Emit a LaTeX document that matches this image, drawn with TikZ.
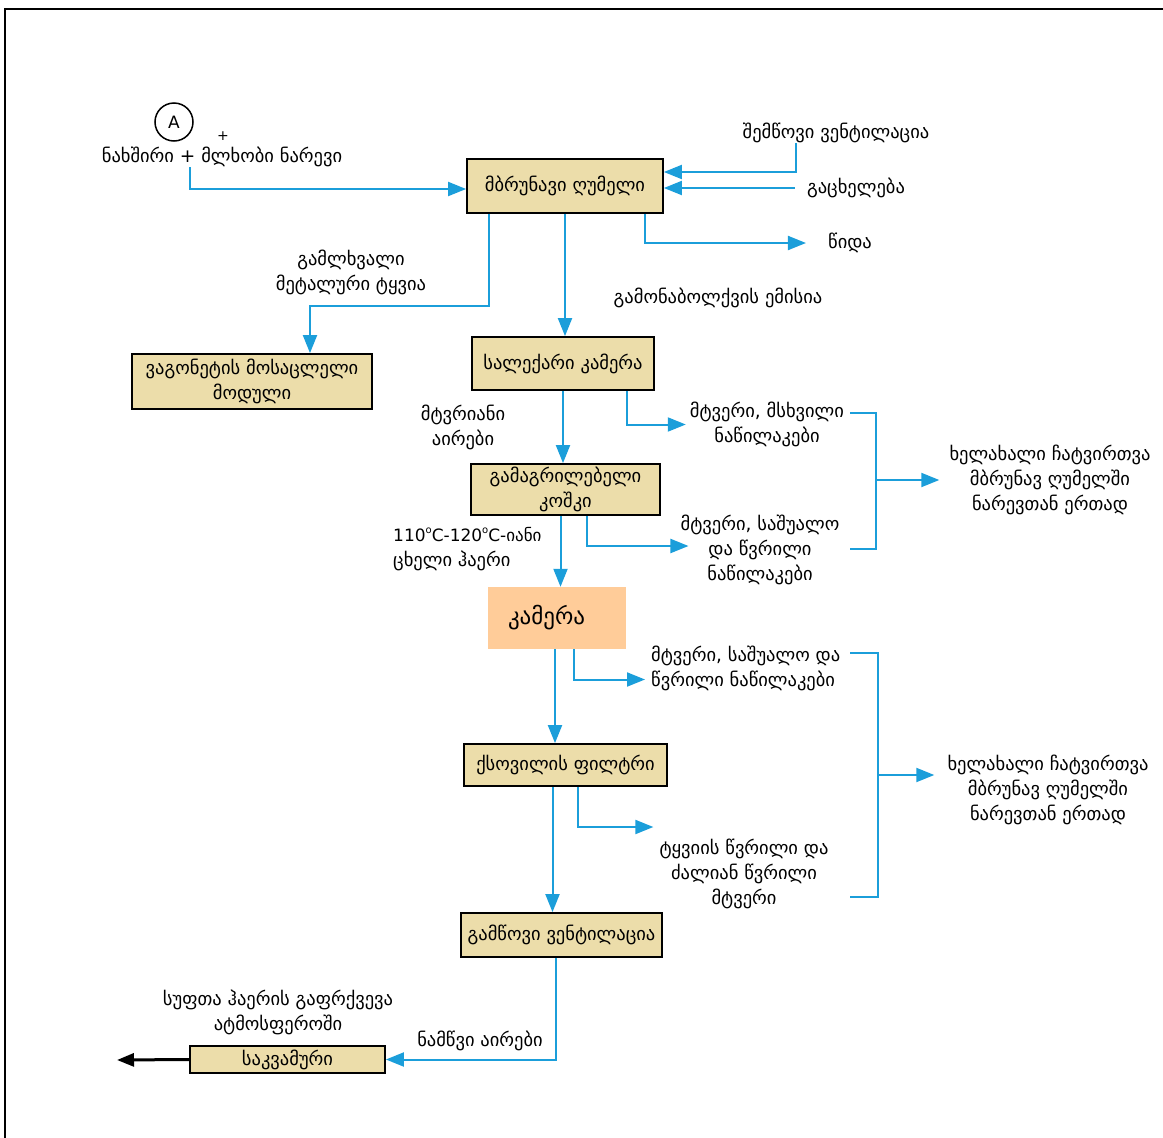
\documentclass[tikz,border=0pt]{standalone}
\usepackage{fontspec}
\setmainfont{DejaVu Sans}
\usetikzlibrary{arrows.meta,calc}
\definecolor{flowblue}{RGB}{27,158,218}
\definecolor{boxtan}{RGB}{236,221,170}
\definecolor{camorange}{RGB}{255,204,153}
\newcommand\fs{\fontsize{18.5}{25}\selectfont}
\newcommand\dg{\raisebox{0.9ex}{\fontsize{10}{10}\selectfont o}}
\begin{document}
\begin{tikzpicture}[x=1pt,y=-1pt,
 box/.style={draw=black, line width=1.8pt, fill=boxtan, inner sep=0pt, align=center, font=\fs},
 lbl/.style={align=center, inner sep=0pt, font=\fs},
 flow/.style={draw=flowblue, line width=2pt, -{Triangle[length=18pt,width=14pt]}},
 fline/.style={draw=flowblue, line width=2pt},
 outarrow/.style={draw=black, line width=3pt, -{Triangle[length=17pt,width=13pt]}},
]
\useasboundingbox (0,0) rectangle (1163,1138);
\draw[line width=1.6pt] (5,1140) -- (5,9) -- (1165,9);

% input
\node[draw, circle, line width=1.5pt, minimum size=38pt, inner sep=0pt, font=\fontsize{17}{18}\selectfont] (A) at (174,122) {A};
\node[lbl, font=\fontsize{14}{15}\selectfont] (plus) at (223,136) {+};
\node[lbl] (inp) at (222,157) {ნახშირი + მლხობი ნარევი};

% boxes
\node[box, minimum width=196pt, minimum height=54pt] (b1) at (565,186) {მბრუნავი ღუმელი};
\node[box, minimum width=240pt, minimum height=55pt] (wag) at (252,381.5) {ვაგონეტის მოსაცლელი\\მოდული};
\node[box, minimum width=182pt, minimum height=53pt] (b2) at (563,363.5) {სალექარი კამერა};
\node[box, minimum width=189pt, minimum height=51pt] (b3) at (565.5,489.5) {გამაგრილებელი\\კოშკი};
\node[fill=camorange, minimum width=138pt, minimum height=62pt, text width=98pt, inner xsep=20pt, inner ysep=0pt, align=left, font=\fontsize{23}{26}\selectfont] (cam) at (557,618) {კამერა};
\node[box, minimum width=203pt, minimum height=42pt] (b4) at (565.5,765) {ქსოვილის ფილტრი};
\node[box, minimum width=201pt, minimum height=44pt] (b5) at (561.5,935) {გამწოვი ვენტილაცია};
\node[box, minimum width=195pt, minimum height=27pt] (b6) at (287.5,1059.5) {საკვამური};

% labels
\node[lbl] (vent) at (836,133) {შემწოვი ვენტილაცია};
\node[lbl] (heat) at (856,188) {გაცხელება};
\node[lbl] (slag) at (850,243) {წიდა};
\node[lbl] (metal) at (351,272.5) {გამლხვალი\\მეტალური ტყვია};
\node[lbl] (emis) at (718,298) {გამონაბოლქვის ემისია};
\node[lbl] (dusty) at (463,427) {მტვრიანი\\აირები};
\node[lbl] (coarse) at (767,424.5) {მტვერი, მსხვილი\\ნაწილაკები};
\node[lbl, align=left, anchor=west] (hot) at (393,549.5) {{\fontsize{17}{25}\selectfont 110\dg C-120\dg C-იანი}\\ცხელი ჰაერი};
\node[lbl] (medium) at (760,550) {მტვერი, საშუალო\\და წვრილი\\ნაწილაკები};
\node[lbl] (reload1) at (1050,480) {ხელახალი ჩატვირთვა\\მბრუნავ ღუმელში\\ნარევთან ერთად};
\node[lbl, align=left, anchor=west] (fine) at (651,668.5) {მტვერი, საშუალო და\\წვრილი ნაწილაკები};
\node[lbl] (reload2) at (1048,790) {ხელახალი ჩატვირთვა\\მბრუნავ ღუმელში\\ნარევთან ერთად};
\node[lbl] (lead) at (744,874) {ტყვიის წვრილი და\\ძალიან წვრილი\\მტვერი};
\node[lbl] (flue) at (480,1041) {ნამწვი აირები};
\node[lbl] (clean) at (278,1012.5) {სუფთა ჰაერის გაფრქვევა\\ატმოსფეროში};

% bracket coordinates
\coordinate (k1a) at (850,413);
\coordinate (k1c) at (876,549);
\coordinate (k1d) at (850,549);
\coordinate (k2a) at (850,653);
\coordinate (k2c) at (878,897);
\coordinate (k2d) at (850,897);
\coordinate (k2m) at (878,775);
\coordinate (outc) at (117,1060);

% connectors
\draw[flow] ([xshift=-32pt]inp.south) |- ([yshift=-3pt]b1.west);
\draw[flow] ([xshift=-40pt]vent.south) |- ([yshift=14pt]b1.east);
\draw[flow] ([xshift=-12pt]heat.west) -- (heat.west -| b1.east);
\draw[flow] ([xshift=80pt]b1.south) |- ([xshift=-22pt]slag.west);
\draw[flow] ([xshift=-76pt]b1.south) -- ([xshift=-76pt,yshift=-92pt]b1.south) -| ([xshift=58pt]wag.north);
\draw[flow] (b1.south) -- (b1.south |- b2.north);
\draw[flow] (b2.south) -- (b2.south |- b3.north);
\draw[flow] ([xshift=64pt]b2.south) |- ([xshift=-4pt]coarse.west);
\draw[fline] (k1a) -| (k1c) -- (k1d);
\draw[flow] (k1c |- reload1.west) -- ([xshift=-10pt]reload1.west);
\draw[flow] ([xshift=-5pt]b3.south) -- ([xshift=-5pt]b3.south |- cam.north);
\draw[flow] ([xshift=21pt]b3.south) |- ([xshift=8pt,yshift=4pt]medium.west);
\draw[flow] ([xshift=-2pt]cam.south) -- ([xshift=-2pt]cam.south |- b4.north);
\draw[flow] ([xshift=17pt]cam.south) |- ([xshift=-6pt,yshift=-11pt]fine.west);
\draw[fline] (k2a) -| (k2c) -- (k2d);
\draw[flow] (k2m) -- ([xshift=-13pt]reload2.west |- k2m);
\draw[flow] ([xshift=-13pt]b4.south) -- ([xshift=-13pt]b4.south |- b5.north);
\draw[flow] ([xshift=12pt]b4.south) |- ([xshift=-6pt,yshift=47pt]lead.west);
\draw[flow] ([xshift=-6pt]b5.south) |- (b6.east);
\draw[outarrow] (b6.west) -- (outc);
\end{tikzpicture}
\end{document}
